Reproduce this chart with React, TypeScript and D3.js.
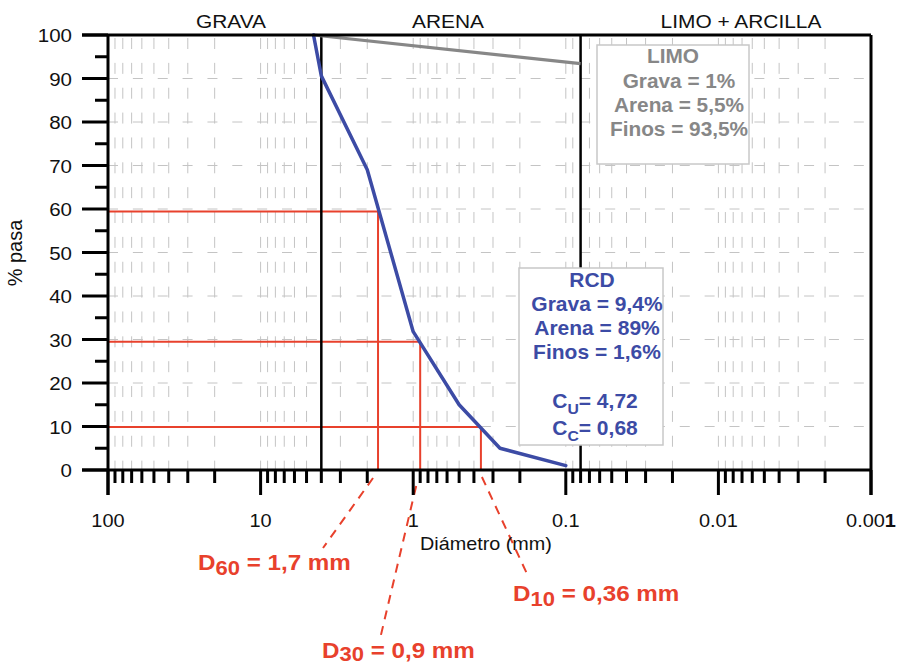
import React from "react";
import * as d3 from "d3";

// gradation curves (diameter in mm, % passing)
const rcdDiam = [4.5, 4, 2, 1, 0.5, 0.27, 0.1];
const rcdPasa = [100, 90.6, 69, 31.8, 15, 5, 1];
const limoDiam = [4.5, 0.08];
const limoPasa = [100, 93.4];

// class limits (mm)
const limits = [4, 0.08];
const zoneNames = ["GRAVA", "ARENA", "LIMO + ARCILLA"];

// characteristic diameters
const dNames = ["60", "30", "10"];
const dLevels = [59.4, 29.5, 9.9];
const dValues = [1.7, 0.9, 0.36];
const dTexts = ["1,7 mm", "0,9 mm", "0,36 mm"];

const xTickLabels = ["100", "10", "1", "0.1", "0.01", "0.001"];
const yTicks = d3.range(0, 101, 10);

const limoLines = ["Grava = 1%", "Arena = 5,5%", "Finos = 93,5%"];
const rcdLines = ["Grava = 9,4%", "Arena = 89%", "Finos = 1,6%"];
const coefs = [
  ["U", "4,72"],
  ["C", "0,68"],
];

const W = 898;
const H = 668;
const BLUE = "#3c4ba5";
const RED = "#e8412c";
const GRAY = "#878787";
const GRID = "#c4c4c4";
const FONT = "'Liberation Sans', Arial, sans-serif";

const x = d3.scaleLog().domain([100, 0.001]).range([108, 871]);
const y = d3.scaleLinear().domain([0, 100]).range([470, 35]);

const logTicks: number[] = [];
for (let e = -3; e <= 1; e++) {
  for (let k = 1; k <= 9; k++) {
    logTicks.push(+(k * Math.pow(10, e)).toPrecision(6));
  }
}
logTicks.push(100);

const T = ({ x: tx, y: ty, size = 18, anchor = "middle", weight = "normal", fill = "#111", sx = 1.1, children }: any) => (
  <text
    transform={`translate(${tx},${ty}) scale(${sx},1)`}
    textAnchor={anchor}
    fontSize={size}
    fontWeight={weight}
    fill={fill}
    fontFamily={FONT}
  >
    {children}
  </text>
);

export default function App() {
  const line = d3
    .line<[number, number]>()
    .x((d) => x(d[0]))
    .y((d) => y(d[1]));
  const rcd = rcdDiam.map((d, i) => [d, rcdPasa[i]] as [number, number]);
  const limo = limoDiam.map((d, i) => [d, limoPasa[i]] as [number, number]);

  const gridX = logTicks.filter((v) => v < 100 && v > 0.001);
  const x0 = x(100);
  const x1 = x(0.001);

  // leader line ends and label anchors for D60, D30, D10
  const leaders = [
    { dx0: -5, y0: 478, x1: 323, y1: 548, lx: 198, ly: 570 },
    { dx0: -4, y0: 486, x1: 380, y1: 639, lx: 322, ly: 658 },
    { dx0: 1, y0: 477, x1: 528, y1: 576, lx: 513, ly: 601 },
  ];

  const zoneX = [231, 448, 741];

  return (
    <svg width={W} height={H} style={{ position: "absolute", left: 0, top: 0, background: "#fff" }}>
      {/* grid */}
      <g stroke={GRID} strokeWidth={1}>
        {gridX.map((v, i) => (
          <line key={"gx" + i} x1={x(v)} x2={x(v)} y1={y(100)} y2={y(0)} strokeDasharray="11 13.86" strokeDashoffset={21.86} />
        ))}
        {yTicks
          .filter((t) => t > 0 && t < 100)
          .map((t) => (
            <line key={"gy" + t} x1={x0} x2={x1} y1={y(t)} y2={y(t)} strokeDasharray="10 14.86" />
          ))}
      </g>

      {/* red construction lines */}
      <g stroke={RED} strokeWidth={2} fill="none">
        {dValues.map((v, i) => (
          <g key={"d" + i}>
            <line x1={x0} x2={x(v)} y1={y(dLevels[i])} y2={y(dLevels[i])} />
            <line x1={x(v)} x2={x(v)} y1={y(dLevels[i])} y2={y(0)} />
            <line
              x1={x(v) + leaders[i].dx0}
              y1={leaders[i].y0}
              x2={leaders[i].x1}
              y2={leaders[i].y1}
              strokeDasharray="9 7"
            />
          </g>
        ))}
      </g>

      {/* class limits */}
      {limits.map((v, i) => (
        <line key={"l" + i} x1={x(v)} x2={x(v)} y1={y(100)} y2={y(0)} stroke="#000" strokeWidth={2.5} />
      ))}

      {/* curves */}
      <path d={line(limo) || ""} fill="none" stroke={GRAY} strokeWidth={3.2} strokeLinejoin="round" />
      <path d={line(rcd) || ""} fill="none" stroke={BLUE} strokeWidth={3.5} strokeLinejoin="round" strokeLinecap="round" />

      {/* boxes */}
      <rect x={597} y={45} width={152} height={119} fill="#fff" stroke="#c8c8c8" strokeWidth={1.5} />
      <rect x={519} y={268} width={144} height={177} fill="#fff" stroke="#c8c8c8" strokeWidth={1.5} />

      {/* axes and frame */}
      <g stroke="#000" strokeLinecap="butt">
        <line x1={x0} x2={x0} y1={y(100)} y2={495} strokeWidth={3} />
        <line x1={x1} x2={x1} y1={y(100)} y2={495} strokeWidth={3} />
        <line x1={82} x2={x1} y1={y(100)} y2={y(100)} strokeWidth={3} />
        <line x1={82} x2={x1} y1={y(0)} y2={y(0)} strokeWidth={3} />
        {yTicks.map((t) => (
          <line key={"yt" + t} x1={82} x2={x0} y1={y(t)} y2={y(t)} strokeWidth={3} />
        ))}
        {d3.range(5, 100, 10).map((t) => (
          <line key={"ym" + t} x1={95} x2={x0} y1={y(t)} y2={y(t)} strokeWidth={3} />
        ))}
        {logTicks.map((v, i) => {
          const major = Math.abs(Math.log10(v) - Math.round(Math.log10(v))) < 1e-6;
          return <line key={"xt" + i} x1={x(v)} x2={x(v)} y1={y(0)} y2={major ? 495 : 483} strokeWidth={3} />;
        })}
      </g>

      {/* tick labels */}
      {yTicks.map((t) => (
        <T key={"yl" + t} x={72} y={y(t) + 7} anchor="end" size={19} sx={1.08}>
          {t}
        </T>
      ))}
      {xTickLabels.map((s, i) => (
        <T key={"xl" + i} x={x(Math.pow(10, 2 - i))} y={527} size={19} sx={1.05}>
          {i === 5 ? (
            <>
              0.00<tspan fontWeight="bold">1</tspan>
            </>
          ) : (
            s
          )}
        </T>
      ))}

      {/* axis titles */}
      <T x={420} y={550} anchor="start" size={18} sx={1.1}>
        Diámetro (mm)
      </T>
      <text
        transform="translate(22,253) rotate(-90)"
        textAnchor="middle"
        fontSize={20}
        fontFamily={FONT}
        fill="#111"
      >
        % pasa
      </text>

      {/* zone labels */}
      {zoneNames.map((z, i) => (
        <T key={"z" + i} x={zoneX[i]} y={28} size={19}>
          {z}
        </T>
      ))}

      {/* LIMO box text */}
      <T x={673} y={63} size={20} weight="bold" fill={GRAY} sx={1.04}>
        LIMO
      </T>
      {limoLines.map((s, i) => (
        <T key={"lm" + i} x={679} y={88 + i * 24} size={20} weight="bold" fill={GRAY} sx={1.04}>
          {s}
        </T>
      ))}

      {/* RCD box text */}
      <T x={592} y={287} size={20} weight="bold" fill={BLUE} sx={1.05}>
        RCD
      </T>
      {rcdLines.map((s, i) => (
        <T key={"rc" + i} x={597} y={311 + i * 24} size={20} weight="bold" fill={BLUE} sx={1.05}>
          {s}
        </T>
      ))}
      {coefs.map((c, i) => (
        <T key={"cf" + i} x={595} y={408 + i * 27} size={20} weight="bold" fill={BLUE} sx={1.05}>
          C
          <tspan fontSize={15} dy={6}>
            {c[0]}
          </tspan>
          <tspan dy={-6}>= {c[1]}</tspan>
        </T>
      ))}

      {/* D labels */}
      {dNames.map((n, i) => (
        <T key={"dl" + i} x={leaders[i].lx} y={leaders[i].ly} anchor="start" size={22} weight="bold" fill={RED} sx={1.1}>
          D
          <tspan fontSize={20} dy={i === 1 ? 3 : 5}>
            {n}
          </tspan>
          <tspan dy={i === 1 ? -3 : -5}> = {dTexts[i]}</tspan>
        </T>
      ))}
    </svg>
  );
}
